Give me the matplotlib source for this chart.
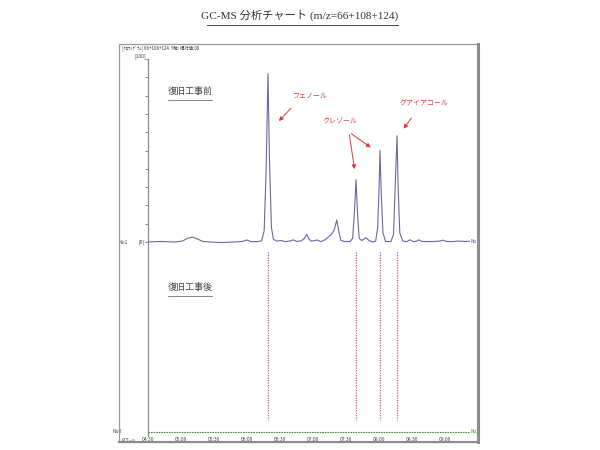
import matplotlib
matplotlib.use("Agg")
import matplotlib.pyplot as plt
from matplotlib.patches import Rectangle
from matplotlib.lines import Line2D

plt.rcParams['font.family'] = ['Noto Sans CJK JP', 'DejaVu Sans']

# ---- data (retention time in minutes, relative intensity %) ----
rt_no1 = [4.50, 4.70, 4.90, 5.02, 5.10, 5.17, 5.24, 5.33, 5.45, 5.60, 5.80, 5.93,
          6.00, 6.06, 6.15, 6.22, 6.26, 6.29, 6.318, 6.34, 6.37, 6.40, 6.45, 6.52,
          6.58, 6.66, 6.70, 6.75, 6.82, 6.87, 6.905, 6.94, 6.98, 7.06, 7.12, 7.18,
          7.23, 7.28, 7.32, 7.36, 7.39, 7.42, 7.47, 7.56, 7.60, 7.625, 7.652, 7.675,
          7.70, 7.74, 7.80, 7.85, 7.90, 7.95, 7.98, 8.00, 8.015, 8.035, 8.06, 8.10,
          8.18, 8.22, 8.245, 8.273, 8.29, 8.315, 8.36, 8.42, 8.47, 8.52, 8.57, 8.60,
          8.65, 8.75, 8.85, 8.92, 8.97, 9.02, 9.10, 9.20, 9.30, 9.37]
int_no1 = [0.0, 0.3, 0.0, 0.5, 2.0, 2.7, 1.8, 0.3, 0.0, -0.3, 0.0, 0.3,
           1.1, 0.2, 0.2, 0.6, 6, 40, 92, 45, 8, 1.5, 0.5, 0.8,
           0.2, 0.6, 1.2, 0.3, 0.6, 2.0, 4.2, 1.5, 0.4, 1.1, 0.2, 1.2,
           2.7, 4.2, 6.5, 12.0, 6, 1.0, 0.3, 0.2, 2, 15, 34, 15,
           2, 0.8, 2.4, 0.8, 0.0, 0.5, 8, 28, 50, 26, 5, 0.3,
           0.2, 4, 30, 58, 30, 5, 0.5, 0.2, 1.2, 0.2, 0.4, 1.2,
           0.3, 0.2, 0.3, 0.5, 1.0, 0.3, 0.2, 0.5, 0.3, 0.4]

rt_no2 = [4.50, 9.38]
int_no2 = [0.0, 0.0]

peak_names = ['フェノール', 'クレゾール', 'クレゾール', 'グアイアコール']
peak_rt = [6.318, 7.652, 8.015, 8.273]
peak_int = [92, 34, 50, 58]

xtick_vals = [4.5, 5.0, 5.5, 6.0, 6.5, 7.0, 7.5, 8.0, 8.5, 9.0]
xtick_labels = ['04:30', '05:00', '05:30', '06:00', '06:30', '07:00', '07:30', '08:00', '08:30', '09:00']

NO2_OFFSET = -103.8   # baseline of trace No2 (relative-% units of the upper trace)

# ---- figure ----
fig = plt.figure(figsize=(6, 4.5), dpi=100)
W, H = 600.0, 450.0

def fx(px):
    return px / W

def fy(py):
    return 1 - py / H

# outer frame
fig.add_artist(Rectangle((fx(119), fy(442)), fx(478) - fx(119), fy(44) - fy(442),
                         transform=fig.transFigure, fill=False, edgecolor='#9a9a9a', lw=0.9))
fig.add_artist(Line2D([fx(478), fx(478)], [fy(442), fy(44)], transform=fig.transFigure,
                      color='#8c8c8c', lw=2.2))
fig.add_artist(Line2D([fx(119), fx(478)], [fy(442), fy(442)], transform=fig.transFigure,
                      color='#8c8c8c', lw=1.5))

# title
title = 'GC-MS 分析チャート (m/z=66+108+124)'
fig.text(0.5, fy(15), title, ha='center', va='center', fontsize=8.1, color='#333333',
         family=['Liberation Serif', 'Noto Sans CJK JP'])
fig.add_artist(Line2D([fx(207), fx(398)], [fy(25), fy(25)], transform=fig.transFigure,
                      color='#444444', lw=0.7))

# header inside box
fig.text(fx(122), fy(48), '[ｸﾛﾏﾄｸﾞﾗﾑ] 66+108+124  Y軸: 相対値:00', ha='left', va='center',
         fontsize=3.2, color='#333333')

# main axes
ax_left, ax_right, ax_top, ax_bot = 148, 472, 59, 436
ax = fig.add_axes([fx(ax_left), fy(ax_bot), fx(ax_right) - fx(ax_left), fy(ax_top) - fy(ax_bot)])
ypp = 100.0 / 183.0
ax.set_ylim(-(ax_bot - 242) * ypp, 100)
ax.set_xlim(4.5, 4.5 + (ax_right - ax_left) / 66.0)
for s in ['top', 'right', 'bottom']:
    ax.spines[s].set_visible(False)
ax.spines['left'].set_color('#8a8a8a')
ax.spines['left'].set_linewidth(0.9)

ax.set_yticks(list(range(0, 101, 10)))
ax.set_yticklabels([])
ax.tick_params(axis='y', direction='out', length=2.5, width=0.6, color='#777777')
ax.set_xticks(xtick_vals)
ax.set_xticklabels(xtick_labels, fontsize=3.6, color='#444444')
ax.tick_params(axis='x', length=0, pad=0.5)

# traces
ax.plot(rt_no1, int_no1, color='#6868a8', lw=0.8, clip_on=False)
ax.plot(rt_no2, [v + NO2_OFFSET for v in int_no2], color='#4e8a3e', lw=0.8,
        linestyle=(0, (1.5, 0.8)), clip_on=False)

# dotted drop lines
for t in peak_rt:
    ax.plot([t, t], [-5.5, -97.5], color='#d65a5a', lw=0.9, linestyle=(0, (1, 1)))

# panel labels
ax.text(5.136, 82.0, '復旧工事前', ha='center', va='center', fontsize=6.5, color='#444444')
ax.plot([4.8, 5.47], [77.5, 77.5], color='#555555', lw=0.5)
ax.text(5.136, -25.1, '復旧工事後', ha='center', va='center', fontsize=6.5, color='#444444')
ax.plot([4.8, 5.47], [-29.6, -29.6], color='#555555', lw=0.5)

# annotations
red = '#d83a3a'
ap = dict(arrowstyle='-|>', color=red, lw=0.7, mutation_scale=6)
ax.annotate('', xy=(6.455, 65.0), xytext=(6.697, 74.3), arrowprops=ap)
ax.text(6.955, 79.8, peak_names[0], ha='center', va='center', fontsize=5, color=red)
ax.text(7.409, 65.6, peak_names[1], ha='center', va='center', fontsize=5, color=red)
ax.annotate('', xy=(7.636, 38.3), xytext=(7.545, 60.1), arrowprops=ap)
ax.annotate('', xy=(7.909, 50.8), xytext=(7.545, 60.1), arrowprops=ap)
ax.text(8.682, 76.0, peak_names[3], ha='center', va='center', fontsize=5, color=red)
ax.annotate('', xy=(8.348, 60.7), xytext=(8.515, 68.9), arrowprops=ap)

# side labels
ax.text(-0.005, 1.0, '[100]', transform=ax.transAxes, ha='right', va='bottom',
        fontsize=3.6, color='#444444')
ax.text(4.5 - 3 / 66, 0, '[0]', ha='right', va='center', fontsize=3.6, color='#444444')
ax.text(4.5 - 20 / 66, 0, 'No1', ha='right', va='center', fontsize=3.6, color='#444444')
ax.text(4.5 - 26 / 66, NO2_OFFSET, 'No2', ha='right', va='center', fontsize=3.6, color='#444444')
ax.text(4.5 - 13 / 66, NO2_OFFSET - 4.5, 'R.T-->', ha='right', va='center', fontsize=3.6,
        color='#444444')
ax.text(rt_no1[-1] + 0.02, int_no1[-1], 'No1', ha='left', va='center', fontsize=3.4, color='#5050a0')
ax.text(rt_no2[-1] + 0.01, NO2_OFFSET, 'No2', ha='left', va='center', fontsize=3.4, color='#4e8a3e')

fig.savefig('out.png', dpi=100)
